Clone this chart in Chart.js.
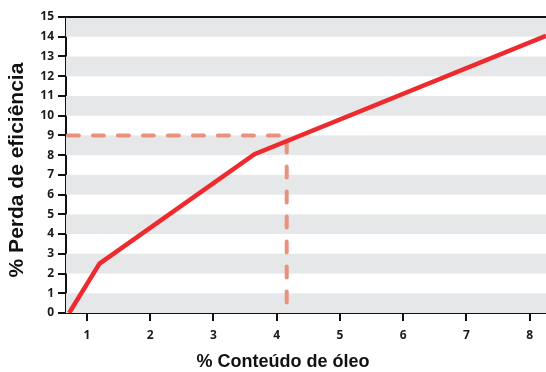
<!DOCTYPE html>
<html>
<head>
<meta charset="utf-8">
<script src="https://cdn.jsdelivr.net/npm/chart.js@4.4.1/dist/chart.umd.min.js"></script>
<style>
  html, body { margin: 0; padding: 0; background: #fff; }
  #wrap { width: 546px; height: 372px; position: relative; }
</style>
</head>
<body>
<div id="wrap"><canvas id="chart"></canvas></div>
<script>
// data
const oilContent = [0.72, 1.2, 3.65, 8.26];
const efficiencyLoss = [0, 2.5, 8.05, 14.05];
const guideX = [0.7, 4.16, 4.16];
const guideY = [9, 9, 0.4];
const xTicks = [1, 2, 3, 4, 5, 6, 7, 8];
const yTicks = [0, 1, 2, 3, 4, 5, 6, 7, 8, 9, 10, 11, 12, 13, 14, 15];
const xTitle = "% Conteúdo de óleo";
const yTitle = "% Perda de eficiência";

const toPoints = (xs, ys) => xs.map((x, i) => ({ x: x, y: ys[i] }));

// grey bands, top frame line and axis titles
const decor = {
    id: 'decor',
    beforeDatasetsDraw(chart) {
        const { ctx, chartArea, scales } = chart;
        ctx.save();
        ctx.fillStyle = '#e6e7e8';
        for (let v = 0; v < 15; v += 2) {
            const top = scales.y.getPixelForValue(v + 1);
            const bottom = scales.y.getPixelForValue(v);
            ctx.fillRect(chartArea.left, top, chartArea.right - chartArea.left, bottom - top);
        }
        ctx.restore();
    },
    afterDraw(chart) {
        const { ctx, chartArea } = chart;
        ctx.save();
        ctx.strokeStyle = '#111';
        ctx.lineWidth = 2;
        ctx.beginPath();
        ctx.moveTo(chartArea.left, chartArea.top);
        ctx.lineTo(chartArea.right, chartArea.top);
        ctx.stroke();

        ctx.fillStyle = '#111';
        ctx.textAlign = 'center';
        ctx.textBaseline = 'middle';
        ctx.font = 'bold 18px "Liberation Sans", Arial, sans-serif';
        ctx.fillText(xTitle, 283, 362);

        ctx.translate(17, 170);
        ctx.rotate(-Math.PI / 2);
        ctx.font = 'bold 21px "Liberation Sans", Arial, sans-serif';
        ctx.fillText(yTitle, 0, 0);
        ctx.restore();
    }
};

const tickFont = { family: '"Open Sans", "Liberation Sans", sans-serif', size: 12, weight: 'bold' };

new Chart(document.getElementById('chart'), {
    type: 'scatter',
    data: {
        datasets: [
            {
                data: toPoints(oilContent, efficiencyLoss),
                showLine: true,
                borderColor: '#ee2a2e',
                borderWidth: 4.5,
                pointRadius: 0,
                fill: false
            },
            {
                data: toPoints(guideX, guideY),
                showLine: true,
                borderColor: '#e8927e',
                borderWidth: 4,
                borderDash: [11, 14],
                borderCapStyle: 'round',
                pointRadius: 0,
                fill: false
            }
        ]
    },
    options: {
        responsive: true,
        maintainAspectRatio: false,
        animation: false,
        layout: { padding: { top: 17, left: 30, right: 0, bottom: 0 } },
        plugins: { legend: { display: false }, tooltip: { enabled: false } },
        scales: {
            x: {
                type: 'linear',
                min: 0.67,
                max: 8.26,
                afterBuildTicks: (scale) => { scale.ticks = xTicks.map(v => ({ value: v })); },
                afterFit: (scale) => { scale.height = 59; },
                grid: { drawOnChartArea: false, tickLength: 8, tickColor: '#111', lineWidth: 2 },
                border: { color: '#111', width: 2 },
                ticks: { color: '#1a1a1a', font: tickFont, padding: 7 }
            },
            y: {
                min: 0,
                max: 15,
                afterBuildTicks: (scale) => { scale.ticks = yTicks.map(v => ({ value: v })); },
                afterFit: (scale) => { scale.width = 36; },
                grid: { drawOnChartArea: false, tickLength: 8, tickColor: '#111', lineWidth: 2 },
                border: { color: '#111', width: 2 },
                ticks: { color: '#1a1a1a', font: tickFont, padding: 4 }
            }
        }
    },
    plugins: [decor]
});
</script>
</body>
</html>
